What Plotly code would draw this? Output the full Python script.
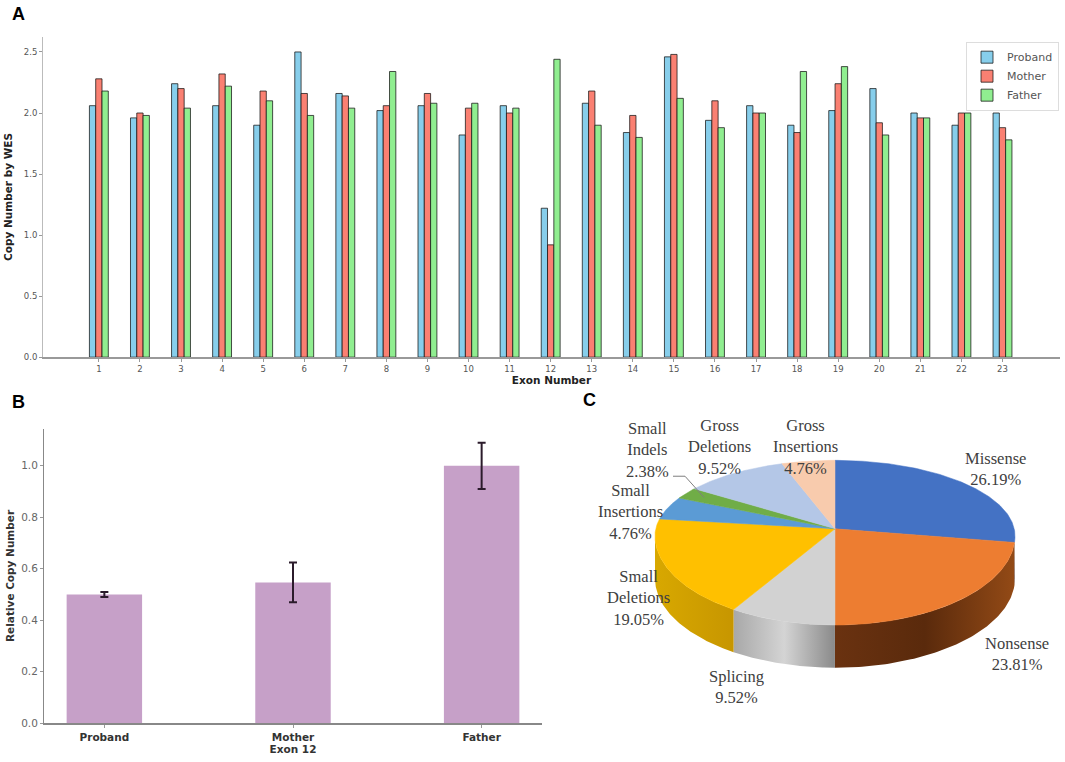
import numpy as np
import plotly.graph_objects as go

W, H = 1065, 762

# ---- panel A: copy number by WES per exon
EXONS = list(range(1, 24))
PROBAND = [2.06, 1.96, 2.24, 2.06, 1.90, 2.50, 2.16, 2.02, 2.06, 1.82, 2.06, 1.22,
           2.08, 1.84, 2.46, 1.94, 2.06, 1.90, 2.02, 2.20, 2.00, 1.90, 2.00]
MOTHER = [2.28, 2.00, 2.20, 2.32, 2.18, 2.16, 2.14, 2.06, 2.16, 2.04, 2.00, 0.92,
          2.18, 1.98, 2.48, 2.10, 2.00, 1.84, 2.24, 1.92, 1.96, 2.00, 1.88]
FATHER = [2.18, 1.98, 2.04, 2.22, 2.10, 1.98, 2.04, 2.34, 2.08, 2.08, 2.04, 2.44,
          1.90, 1.80, 2.12, 1.88, 2.00, 2.34, 2.38, 1.82, 1.96, 2.00, 1.78]

# ---- panel B: qPCR exon 12
MEMBERS = ["Proband", "Mother", "Father"]
REL_COPY = [0.50, 0.547, 1.00]
REL_ERR = [0.01, 0.077, 0.09]

# ---- panel C: mutation spectrum
MUT_TYPES = ["Missense", "Nonsense", "Splicing", "Small<br>Deletions", "Small<br>Insertions",
             "Small<br>Indels", "Gross<br>Deletions", "Gross<br>Insertions"]
MUT_PCT = [26.19, 23.81, 9.52, 19.05, 4.76, 2.38, 9.52, 4.76]

# styling
SERIES_COLORS = {"Proband": "#87CEEB", "Mother": "#FA8072", "Father": "#90EE90"}
TOP_COLORS = ["#4472C4", "#ED7D31", "#D2D2D2", "#FFC000", "#5B9BD5", "#70AD47", "#B4C7E7", "#F8CBAD"]
SIDE_COLORS = [
    ["#2F5597", "#2F5597"],
    ["#6A3210", "#5A2A0C", "#934A16"],
    ["#A8A8A8", "#D4D4D4", "#8A8A8A"],
    ["#D8A800", "#C79600"],
    ["#41719C", "#41719C"],
    ["#507E32", "#507E32"],
    ["#8497B0", "#8497B0"],
    ["#C9A08A", "#C9A08A"],
]
# label offsets (px) from pie centre, as Excel placed them
LABEL_OFFSETS = [(160, -67), (182, 119), (-99, 152), (-197, 63), (-205, -24),
                 (-188, -86), (-116, -89), (-30, -89)]

PIE_CX, PIE_CY = 835, 540
PIE_A = 180
B_BACK, B_FRONT = 76, 90
APEX_DY = -7
DEPTH = 43

TICK_FONT = dict(family="DejaVu Sans", size=8.5, color="#555555")
BOLD = "DejaVu Sans"

fig = go.Figure()

# panel A bars
for name, vals in [("Proband", PROBAND), ("Mother", MOTHER), ("Father", FATHER)]:
    fig.add_trace(go.Bar(
        x=EXONS, y=vals, name=name, xaxis="x", yaxis="y",
        marker=dict(color=SERIES_COLORS[name], line=dict(color="rgba(20,20,20,0.75)", width=1)),
    ))

# panel B bars
fig.add_trace(go.Bar(
    x=list(range(len(MEMBERS))), y=REL_COPY, xaxis="x2", yaxis="y2", width=0.4,
    marker=dict(color="#C6A0C8", line=dict(width=0)), showlegend=False,
    error_y=dict(type="data", array=REL_ERR, color="#2B1B2B", thickness=2, width=4),
))


# panel C: pseudo-3D pie drawn in pixel units
def rim(theta):
    t = np.radians(theta)
    c = np.cos(t)
    b = np.where(c > 0, B_BACK, B_FRONT)
    return PIE_CX + PIE_A * np.sin(t), PIE_CY - b * c


total = sum(MUT_PCT)
bounds = np.concatenate([[0], np.cumsum(MUT_PCT)]) / total * 360

# side walls (front half only)
for i in range(len(MUT_PCT)):
    s, e = max(bounds[i], 90), min(bounds[i + 1], 270)
    if s >= e:
        continue
    th = np.linspace(s, e, 80)
    xt, yt = rim(th)
    cols = SIDE_COLORS[i]
    scale = [[k / (len(cols) - 1), c] for k, c in enumerate(cols)]
    fig.add_trace(go.Scatter(
        x=np.concatenate([xt, xt[::-1]]), y=np.concatenate([yt, yt[::-1] + DEPTH]),
        xaxis="x3", yaxis="y3", mode="lines", line=dict(width=0), fill="toself",
        fillcolor=cols[0], fillgradient=dict(type="horizontal", colorscale=scale),
        showlegend=False, hoverinfo="skip",
    ))

# top faces
for i in range(len(MUT_PCT)):
    th = np.linspace(bounds[i], bounds[i + 1], 120)
    xt, yt = rim(th)
    fig.add_trace(go.Scatter(
        x=np.concatenate([[PIE_CX], xt, [PIE_CX]]),
        y=np.concatenate([[PIE_CY + APEX_DY], yt, [PIE_CY + APEX_DY]]),
        xaxis="x3", yaxis="y3", mode="lines", line=dict(width=0.5, color=TOP_COLORS[i]),
        fill="toself", fillcolor=TOP_COLORS[i], showlegend=False, hoverinfo="skip",
    ))

# leader line for the thin "Small Indels" slice
idx = 5
mid = (bounds[idx] + bounds[idx + 1]) / 2
lx, ly = rim(mid)
lx = PIE_CX + 0.88 * (lx - PIE_CX)
ly = PIE_CY + APEX_DY + 0.88 * (ly - PIE_CY - APEX_DY)
fig.add_trace(go.Scatter(
    x=[PIE_CX - 162, PIE_CX - 150, lx], y=[PIE_CY - 60, PIE_CY - 60, ly],
    xaxis="x3", yaxis="y3", mode="lines", line=dict(color="#7F7F7F", width=1),
    showlegend=False, hoverinfo="skip",
))

annotations = []
for name, pct, (dx, dy) in zip(MUT_TYPES, MUT_PCT, LABEL_OFFSETS):
    annotations.append(dict(
        x=PIE_CX + dx, y=PIE_CY + dy, xref="x3", yref="y3", showarrow=False,
        text=f"{name}<br>{pct:.2f}%", align="center",
        font=dict(family="Liberation Serif", size=16.5, color="#404040"),
    ))

for letter, px, py in [("A", 10, 14), ("B", 10, 405), ("C", 581, 403)]:
    annotations.append(dict(
        x=px / W, y=1 - py / H, xref="paper", yref="paper", showarrow=False,
        text=f"<b>{letter}</b>", xanchor="left", yanchor="middle",
        font=dict(family="Liberation Sans", size=18, color="black"),
    ))

axis_common = dict(showgrid=False, zeroline=False, showline=True, ticks="outside",
                   ticklen=3, tickcolor="#999999", tickfont=TICK_FONT)

fig.update_layout(
    width=W, height=H,
    margin=dict(l=0, r=0, t=0, b=0),
    paper_bgcolor="white", plot_bgcolor="white",
    barmode="group", bargap=0.54, bargroupgap=0,
    annotations=annotations,
    legend=dict(x=966 / W, y=1 - 42 / H, xanchor="left", yanchor="top",
                bordercolor="#DDDDDD", borderwidth=1, bgcolor="white",
                font=dict(family="DejaVu Sans", size=11, color="#555555"),
                tracegroupgap=2),
    xaxis=dict(domain=[43 / W, 1060 / W], range=[-0.36, 24.4], tickvals=EXONS,
               linecolor="#999999", linewidth=1.5,
               title=dict(text="<b>Exon Number</b>", standoff=2,
                          font=dict(family=BOLD, size=10.5, color="#222222")),
               **axis_common),
    yaxis=dict(domain=[1 - 360 / H, 1 - 37 / H], range=[0, 2.625],
               tickvals=[0, 0.5, 1.0, 1.5, 2.0, 2.5], tickformat=".1f",
               linecolor="#BBBBBB", linewidth=1, anchor="x",
               title=dict(text="<b>Copy Number by WES</b>", standoff=9,
                          font=dict(family=BOLD, size=10.5, color="#222222")),
               **axis_common),
    xaxis2=dict(domain=[44 / W, 542 / W], range=[-0.32, 2.32], anchor="y2",
                tickvals=list(range(len(MEMBERS))), ticktext=[f"<b>{m}</b>" for m in MEMBERS],
                linecolor="#888888", linewidth=1.5,
                title=dict(text="<b>Exon 12</b>", standoff=1,
                           font=dict(family=BOLD, size=10.5, color="#333333")),
                **{**axis_common, "tickfont": dict(family=BOLD, size=10.5, color="#333333")}),
    yaxis2=dict(domain=[1 - 729 / H, 1 - 432 / H], range=[0, 1.1445], anchor="x2",
                tickvals=[0, 0.2, 0.4, 0.6, 0.8, 1.0], tickformat=".1f",
                linecolor="#888888", linewidth=1,
                title=dict(text="<b>Relative Copy Number</b>", standoff=4,
                           font=dict(family=BOLD, size=10.5, color="#333333")),
                **{**axis_common, "tickfont": dict(family="DejaVu Sans", size=10.5, color="#666666")}),
    xaxis3=dict(domain=[570 / W, 1.0], range=[570, W], anchor="y3", visible=False),
    yaxis3=dict(domain=[0, 1 - 400 / H], range=[H, 400], anchor="x3", visible=False),
)

fig.write_html("out.html", config={"displayModeBar": False},
               post_script="document.body.style.margin='0px';")
